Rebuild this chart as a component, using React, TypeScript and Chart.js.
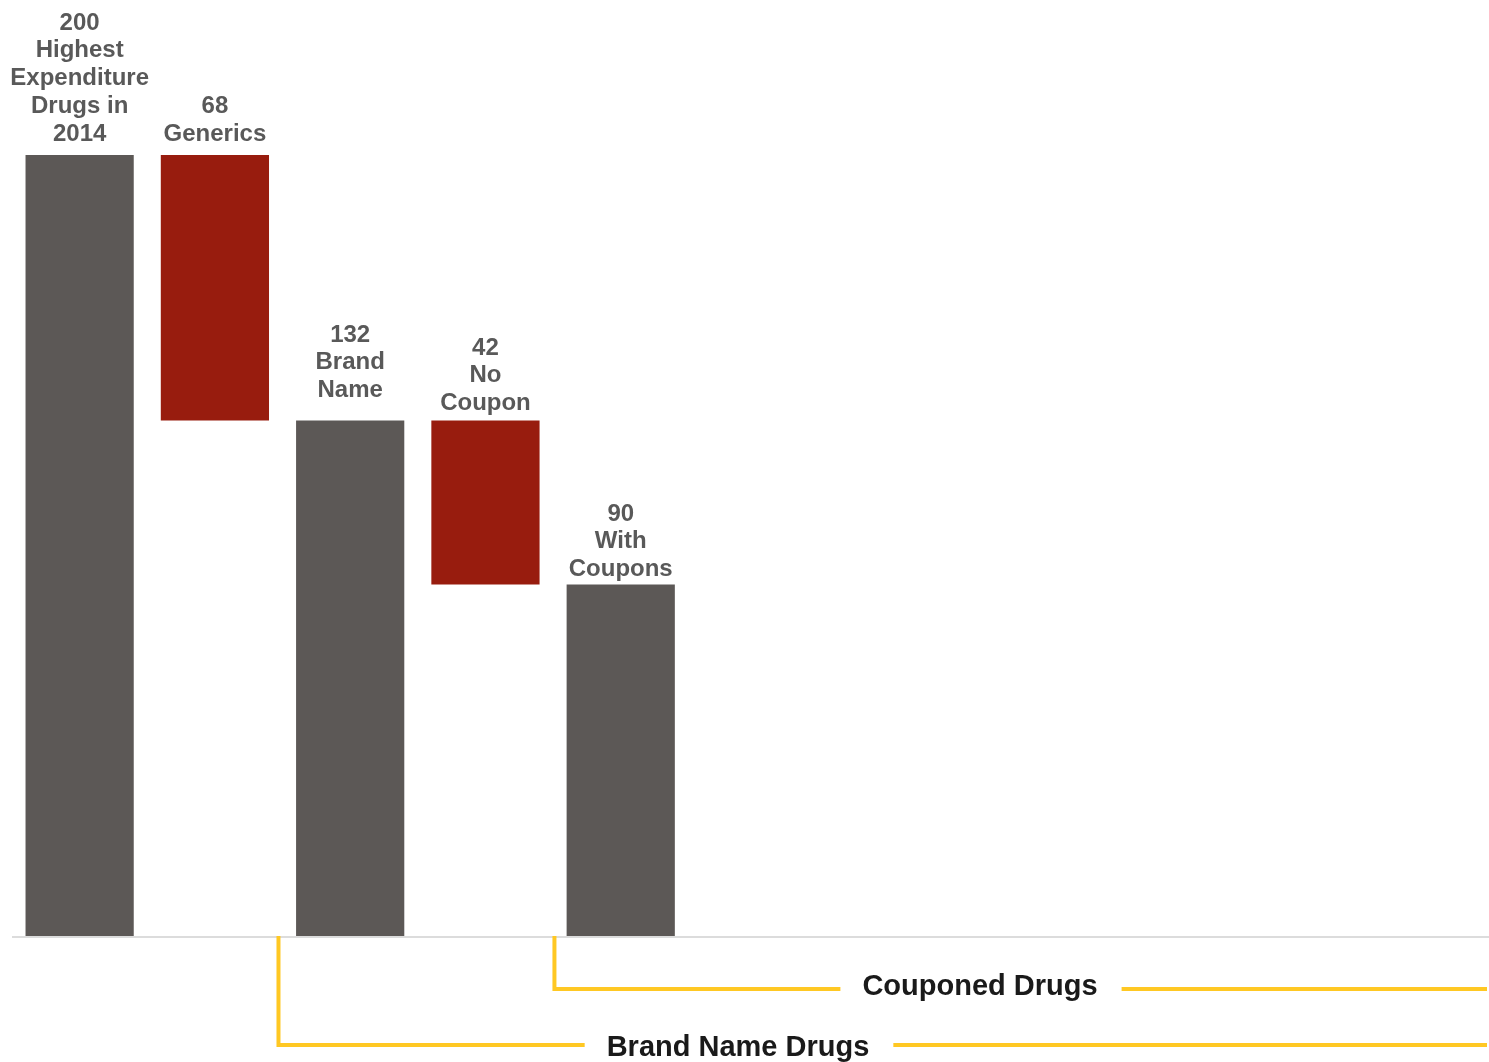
import React, { useEffect, useRef } from "react";
import { Chart, registerables } from "chart.js";

Chart.register(...registerables);

// Waterfall steps: totals stand on the axis, decreases float below the running total
const stepLines: string[][] = [
  ["200", "Highest", "Expenditure", "Drugs in", "2014"],
  ["68", "Generics"],
  ["132", "Brand", "Name"],
  ["42", "No", "Coupon"],
  ["90", "With", "Coupons"],
];
const stepValues = [200, 68, 132, 42, 90];
const stepKinds = ["total", "decrease", "total", "decrease", "total"];
// extra empty slots keep the bars narrow and leave room for the brackets
const emptySlots = 6;

// bracket groupings below the axis (start given in category units)
const bracketNames = ["Brand Name Drugs", "Couponed Drugs"];
const bracketStarts = [1.47, 3.51];
const bracketDepths = [109, 53];
const bracketTextCenters = [738, 980];
const bracketTextShift = [3, -2];

const labelLift = [21, 21, 30, 17, 15];

const GREY = "#5c5856";
const RED = "#981c0e";
const YELLOW = "#ffc823";

export default function App() {
  const ref = useRef<HTMLCanvasElement | null>(null);

  useEffect(() => {
    document.body.style.margin = "0";
    const canvas = ref.current!;

    let running = 0;
    const ranges: [number, number][] = stepValues.map((v, i) => {
      if (stepKinds[i] === "total") {
        running = v;
        return [0, v];
      }
      const r: [number, number] = [running - v, running];
      running = running - v;
      return r;
    });
    const colors = stepKinds.map((k) => (k === "total" ? GREY : RED));
    const labels = [
      ...stepLines.map((l) => l.slice(1).join(" ")),
      ...Array.from({ length: emptySlots }, () => ""),
    ];

    const overlay = {
      id: "overlay",
      afterDatasetsDraw(chart: any) {
        const ctx = chart.ctx as CanvasRenderingContext2D;
        const xs = chart.scales.x;
        const ys = chart.scales.y;
        const base = ys.getPixelForValue(0);

        // axis line
        ctx.save();
        ctx.strokeStyle = "#dcdcdc";
        ctx.lineWidth = 2;
        ctx.beginPath();
        ctx.moveTo(12, base + 1);
        ctx.lineTo(1489, base + 1);
        ctx.stroke();

        // step labels
        const meta = chart.getDatasetMeta(0);
        ctx.font = "bold 24px 'Liberation Sans', Arial, sans-serif";
        ctx.fillStyle = "#595959";
        ctx.textAlign = "center";
        ctx.textBaseline = "middle";
        const lh = 27.75;
        meta.data.forEach((bar: any, i: number) => {
          const lines = stepLines[i];
          const bottom = bar.y - labelLift[i];
          lines.forEach((t, j) => {
            ctx.fillText(t, bar.x, bottom - (lines.length - 1 - j) * lh);
          });
        });

        // brackets
        ctx.font = "bold 29px 'Liberation Sans', Arial, sans-serif";
        ctx.strokeStyle = YELLOW;
        ctx.lineWidth = 4;
        ctx.lineCap = "butt";
        bracketNames.forEach((name, i) => {
          const x0 = xs.getPixelForValue(bracketStarts[i]);
          const y = base + bracketDepths[i];
          const cx = bracketTextCenters[i];
          const w = ctx.measureText(name).width;
          ctx.beginPath();
          ctx.moveTo(x0, base);
          ctx.lineTo(x0, y);
          ctx.lineTo(cx - w / 2 - 22, y);
          ctx.stroke();
          ctx.beginPath();
          ctx.moveTo(cx + w / 2 + 24, y);
          ctx.lineTo(1487, y);
          ctx.stroke();
          ctx.fillStyle = "#1a1a1a";
          ctx.fillText(name, cx, y + bracketTextShift[i]);
        });
        ctx.restore();
      },
    };

    const chart = new Chart(canvas, {
      type: "bar",
      data: {
        labels,
        datasets: [
          {
            data: ranges as any,
            backgroundColor: colors,
            borderWidth: 0,
            barPercentage: 0.8,
            categoryPercentage: 1,
          },
        ],
      },
      options: {
        responsive: false,
        animation: false,
        layout: { padding: { left: 12, right: 0, top: 155, bottom: 126 } },
        plugins: { legend: { display: false }, tooltip: { enabled: false } },
        scales: {
          x: { display: false },
          y: { display: false, min: 0, max: 200 },
        },
      },
      plugins: [overlay],
    });
    return () => chart.destroy();
  }, []);

  return (
    <div style={{ width: 1489, height: 1062, overflow: "hidden", background: "#fff" }}>
      <canvas ref={ref} width={1500} height={1062} style={{ display: "block" }} />
    </div>
  );
}
